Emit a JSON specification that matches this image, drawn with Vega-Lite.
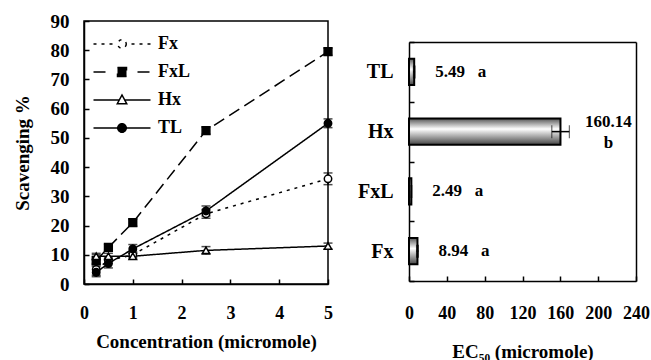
{
  "$schema": "https://vega.github.io/schema/vega-lite/v6.json",
  "padding": {"left": 12, "top": 11, "right": 0, "bottom": 0},
  "background": "white",
  "spacing": 7,
  "config": {
    "font": "Liberation Serif",
    "view": {"stroke": "black", "strokeWidth": 1.5},
    "axis": {
      "grid": false,
      "labelOverlap": false,
      "labelFlush": false,
      "domainColor": "black",
      "domainWidth": 1.5,
      "tickColor": "black",
      "tickWidth": 1.5,
      "tickSize": -5,
      "labelColor": "black",
      "labelFont": "Liberation Serif",
      "labelFontWeight": "bold",
      "labelFontSize": 18,
      "titleColor": "black",
      "titleFont": "Liberation Serif",
      "titleFontWeight": "bold",
      "titleFontSize": 19
    }
  },
  "hconcat": [
    {
      "width": 244,
      "height": 263,
      "data": {
        "values": [
          {"s": "Fx", "c": 0.25, "v": 5, "lo": 3, "hi": 7},
          {"s": "Fx", "c": 0.5, "v": 8, "lo": 7, "hi": 9},
          {"s": "Fx", "c": 1, "v": 10, "lo": 9, "hi": 11},
          {"s": "Fx", "c": 2.5, "v": 24, "lo": 22.5, "hi": 25.5},
          {"s": "Fx", "c": 5, "v": 36, "lo": 34, "hi": 38},
          {"s": "FxL", "c": 0.25, "v": 8, "lo": 6, "hi": 10},
          {"s": "FxL", "c": 0.5, "v": 12.5, "lo": 11.5, "hi": 13.5},
          {"s": "FxL", "c": 1, "v": 21, "lo": 19.8, "hi": 22.2},
          {"s": "FxL", "c": 2.5, "v": 52.5, "lo": 51.3, "hi": 53.7},
          {"s": "FxL", "c": 5, "v": 79.5, "lo": 78.3, "hi": 80.7},
          {"s": "Hx", "c": 0.25, "v": 9.5, "lo": 8.5, "hi": 10.5},
          {"s": "Hx", "c": 0.5, "v": 9.5, "lo": 8.5, "hi": 10.5},
          {"s": "Hx", "c": 1, "v": 9.5, "lo": 8.5, "hi": 10.5},
          {"s": "Hx", "c": 2.5, "v": 11.5, "lo": 10.2, "hi": 12.8},
          {"s": "Hx", "c": 5, "v": 13, "lo": 12, "hi": 14},
          {"s": "TL", "c": 0.25, "v": 4, "lo": 2.5, "hi": 6.5},
          {"s": "TL", "c": 0.5, "v": 7, "lo": 5.5, "hi": 8.5},
          {"s": "TL", "c": 1, "v": 12, "lo": 10.5, "hi": 13.5},
          {"s": "TL", "c": 2.5, "v": 25, "lo": 23.3, "hi": 26.7},
          {"s": "TL", "c": 5, "v": 55, "lo": 53.5, "hi": 56.5}
        ]
      },
      "encoding": {
        "x": {
          "field": "c", "type": "quantitative",
          "scale": {"domain": [0, 5], "nice": false},
          "axis": {"values": [0, 1, 2, 3, 4, 5], "labelPadding": 25, "titlePadding": 10},
          "title": "Concentration (micromole)"
        },
        "y": {
          "field": "v", "type": "quantitative",
          "scale": {"domain": [0, 90], "nice": false},
          "axis": {"values": [0, 10, 20, 30, 40, 50, 60, 70, 80, 90], "labelPadding": 20, "titlePadding": 18, "labelFontSize": 19},
          "title": "Scavenging %"
        }
      },
      "layer": [
        {
          "mark": {"type": "point", "size": 55, "filled": true, "strokeWidth": 1.5, "opacity": 0},
          "encoding": {
            "shape": {
              "field": "s", "type": "nominal",
              "scale": {
                "domain": ["Fx", "FxL", "Hx", "TL"],
                "range": [
                  "M-5.7,0H-5.1M-4.1,0H-3.5M-2.5,0H-1.9M1.9,0H2.5M3.5,0H4.1M5.1,0H5.7M0.85,0A0.85,0.85,0,1,1,-0.85,0A0.85,0.85,0,1,1,0.85,0Z",
                  "M-5.7,0H-3.1M3.1,0H5.7M-0.9,-0.9H0.9V0.9H-0.9Z",
                  "M-5.7,0H-0.55M0.55,0H5.7M0,-1L0.95,0.75H-0.95Z",
                  "M-5.7,0H5.7M0.85,0A0.85,0.85,0,1,1,-0.85,0A0.85,0.85,0,1,1,0.85,0Z"
                ]
              },
              "legend": {
                "orient": "none",
                "legendX": 29,
                "legendY": 14,
                "title": null,
                "padding": 0,
                "labelFont": "Liberation Serif",
                "labelFontSize": 18,
                "labelFontWeight": "bold",
                "labelColor": "black",
                "symbolSize": 100,
                "symbolStrokeWidth": 1.5,
                "symbolOpacity": 1,
                "labelOffset": 27,
                "rowPadding": 10
              }
            },
            "fill": {
              "field": "s", "type": "nominal",
              "scale": {"domain": ["Fx", "FxL", "Hx", "TL"], "range": ["white", "black", "white", "black"]}
            },
            "stroke": {
              "field": "s", "type": "nominal",
              "scale": {"domain": ["Fx", "FxL", "Hx", "TL"], "range": ["black", "black", "black", "black"]}
            }
          }
        },
        {
          "mark": {"type": "line", "color": "black", "strokeWidth": 1.5},
          "encoding": {
            "strokeDash": {
              "field": "s", "type": "nominal",
              "scale": {"domain": ["Fx", "FxL", "Hx", "TL"], "range": [[3, 5], [12, 6], [1, 0], [1, 0]]},
              "legend": null
            }
          }
        },
        {
          "mark": {"type": "rule", "color": "black", "strokeWidth": 1.5},
          "encoding": {
            "y": {"field": "lo", "type": "quantitative", "title": "Scavenging %"},
            "y2": {"field": "hi"}
          }
        },
        {
          "mark": {"type": "tick", "orient": "horizontal", "color": "black", "size": 9, "thickness": 1.5},
          "encoding": {"y": {"field": "lo", "type": "quantitative", "title": "Scavenging %"}}
        },
        {
          "mark": {"type": "tick", "orient": "horizontal", "color": "black", "size": 9, "thickness": 1.5},
          "encoding": {"y": {"field": "hi", "type": "quantitative", "title": "Scavenging %"}}
        },
        {
          "transform": [{"filter": "datum.s === 'Fx'"}],
          "mark": {"type": "point", "shape": "circle", "filled": true, "fill": "white", "size": 55, "stroke": "black", "strokeWidth": 1.5, "opacity": 1}
        },
        {
          "transform": [{"filter": "datum.s === 'FxL'"}],
          "mark": {"type": "point", "shape": "square", "filled": true, "fill": "black", "size": 60, "stroke": "black", "strokeWidth": 1.5, "opacity": 1}
        },
        {
          "transform": [{"filter": "datum.s === 'Hx'"}],
          "mark": {"type": "point", "shape": "triangle-up", "filled": true, "fill": "white", "size": 55, "stroke": "black", "strokeWidth": 1.5, "opacity": 1}
        },
        {
          "transform": [{"filter": "datum.s === 'TL'"}],
          "mark": {"type": "point", "shape": "circle", "filled": true, "fill": "black", "size": 55, "stroke": "black", "strokeWidth": 1.5, "opacity": 1}
        }
      ]
    },
    {
      "width": 227,
      "height": 260,
      "view": {"stroke": null},
      "data": {
        "values": [
          {"s": "TL", "v": 5.49, "lo": 4.6, "hi": 6.4, "lab": "5.49\u00a0\u00a0\u00a0a"},
          {"s": "Hx", "v": 160.14, "lo": 151, "hi": 169.5, "lab": "160.14\nb"},
          {"s": "FxL", "v": 2.49, "lo": 2.0, "hi": 3.0, "lab": "2.49\u00a0\u00a0\u00a0a"},
          {"s": "Fx", "v": 8.94, "lo": 7.9, "hi": 10.0, "lab": "8.94\u00a0\u00a0\u00a0a"}
        ]
      },
      "resolve": {"axis": {"x": "independent", "y": "independent"}},
      "layer": [
        {
          "mark": {
            "type": "bar",
            "height": {"band": 0.44},
            "stroke": "black",
            "strokeWidth": 2,
            "fill": {
              "gradient": "linear", "x1": 0, "y1": 0, "x2": 0, "y2": 1,
              "stops": [
                {"offset": 0, "color": "#555555"},
                {"offset": 0.4, "color": "#ffffff"},
                {"offset": 1, "color": "#444444"}
              ]
            }
          },
          "encoding": {
            "y": {
              "field": "s", "type": "nominal",
              "sort": ["TL", "Hx", "FxL", "Fx"],
              "scale": {"paddingInner": 0, "paddingOuter": 0, "range": [21, 260]},
              "axis": {"title": null, "tickBand": "extent", "labelPadding": 21, "labelFontSize": 20}
            },
            "x": {
              "field": "v", "type": "quantitative",
              "scale": {"domain": [0, 240], "nice": false},
              "axis": {"values": [0, 40, 80, 120, 160, 200, 240], "labelPadding": 28, "titlePadding": 20},
              "title": "EC₅₀ (micromole)"
            }
          }
        },
        {
          "mark": {"type": "errorbar", "color": "black", "ticks": {"size": 13, "strokeWidth": 1.5}, "rule": {"strokeWidth": 1.5}},
          "encoding": {
            "y": {
              "field": "s", "type": "nominal",
              "sort": ["TL", "Hx", "FxL", "Fx"],
              "axis": {"orient": "right", "title": null, "labels": false, "ticks": false}
            },
            "x": {"field": "lo", "type": "quantitative", "axis": {"orient": "top", "offset": -21, "labels": false, "ticks": false, "title": null}},
            "x2": {"field": "hi"}
          }
        },
        {
          "transform": [{"filter": "datum.s !== 'Hx'"}],
          "mark": {"type": "text", "align": "left", "baseline": "middle", "dx": 21, "font": "Liberation Serif", "fontSize": 17, "fontWeight": "bold", "color": "black"},
          "encoding": {
            "y": {"field": "s", "type": "nominal", "sort": ["TL", "Hx", "FxL", "Fx"], "axis": null},
            "x": {"field": "v", "type": "quantitative", "axis": null},
            "text": {"field": "lab"}
          }
        },
        {
          "transform": [{"filter": "datum.s === 'Hx'"}],
          "mark": {"type": "text", "align": "center", "baseline": "middle", "dx": 48, "dy": -10, "lineBreak": "\n", "lineHeight": 21, "font": "Liberation Serif", "fontSize": 17, "fontWeight": "bold", "color": "black"},
          "encoding": {
            "y": {"field": "s", "type": "nominal", "sort": ["TL", "Hx", "FxL", "Fx"], "axis": null},
            "x": {"field": "v", "type": "quantitative", "axis": null},
            "text": {"field": "lab"}
          }
        }
      ]
    }
  ]
}
